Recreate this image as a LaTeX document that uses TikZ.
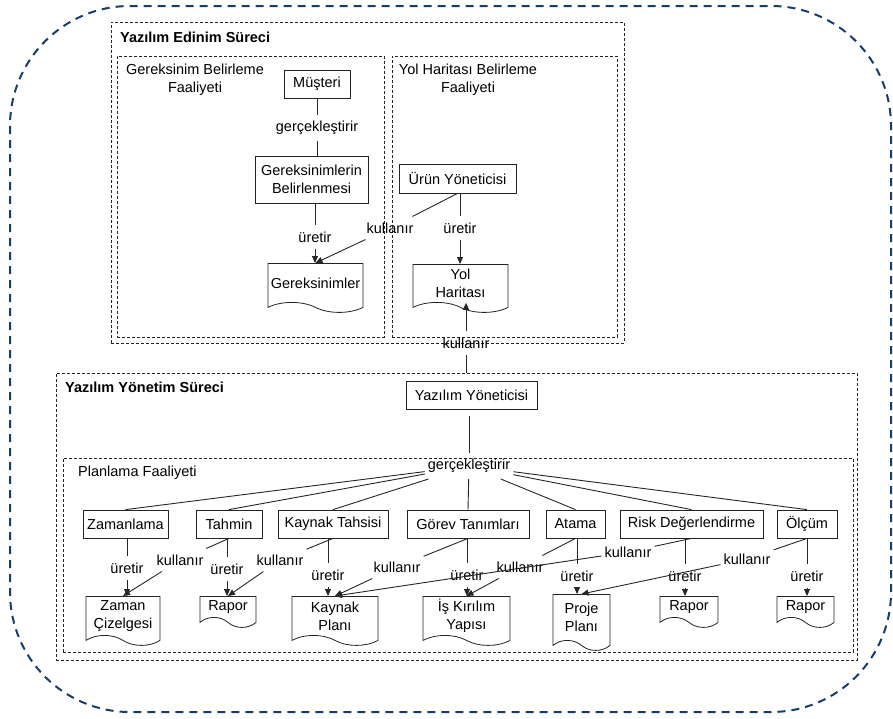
\documentclass[tikz,border=0pt]{standalone}
\usepackage{fontspec}
\setmainfont{Liberation Sans}
\usetikzlibrary{positioning, arrows.meta, shapes.symbols}
\definecolor{framenavy}{RGB}{22, 61, 110}
\definecolor{boxgray}{RGB}{35, 35, 35}

\begin{document}
\begin{tikzpicture}[x=1pt, y=-1pt,
        font=\fontsize{14.5}{18}\selectfont,
        rolebox/.style={draw=boxgray, line width=0.8pt, inner sep=3pt,
            align=center, minimum height=28pt},
        docbox/.style={draw=boxgray, line width=0.8pt, tape,
            tape bend top=none, tape bend bottom=out and in,
            tape bend height=10pt, inner sep=2pt, align=center, anchor=north},
        procbox/.style={draw=boxgray, line width=0.7pt,
            dash pattern=on 3pt off 2pt, inner sep=0pt},
        ttl/.style={anchor=west, inner sep=0pt},
        lbl/.style={inner xsep=3pt, inner ysep=6pt},
        link/.style={draw=black!85, line width=0.9pt},
        uses/.style={link, -{Triangle[length=7pt, width=6pt]}}
    ]
    \useasboundingbox (0,0) rectangle (893,718);
    \draw[framenavy, line width=2pt, dash pattern=on 8pt off 6pt,
        rounded corners=120pt] (10,6) rectangle (891,712);

    % acquisition process
    \node[procbox, minimum width=513pt, minimum height=321pt] (edinim) at (367.5,182.5) {};
    \node[ttl, font=\fontsize{14.5}{18}\selectfont\bfseries] (edtitle) at (120,37) {Yazılım Edinim Süreci};
    \node[procbox, minimum width=267pt, minimum height=281pt] (gbfa) at (250.5,196.5) {};
    \node[align=center, inner sep=0pt] (gbtitle) at (195,80) {Gereksinim Belirleme\\Faaliyeti};
    \node[procbox, minimum width=225pt, minimum height=281pt] (yhfa) at (504.5,196.5) {};
    \node[align=center, inner sep=0pt] (yhtitle) at (468,80) {Yol Haritası Belirleme\\Faaliyeti};

    \node[rolebox, minimum width=66pt] (musteri) at (317,84) {Müşteri};
    \node[lbl] (gerc1) at (317,128) {gerçekleştirir};
    \node[rolebox, minimum width=113pt, minimum height=47pt] (gbelir) at (311.5,179.5)
        {Gereksinimlerin\\Belirlenmesi};
    \node[lbl] (ur1) at (315,237) {üretir};
    \node[docbox, minimum width=95pt, minimum height=49pt] (gerek) at (315.5,263) {Gereksinimler};

    \node[rolebox, minimum width=117pt, minimum height=29pt] (urun) at (457.5,178.5) {Ürün Yöneticisi};
    \node[lbl] (ku1) at (390,228) {kullanır};
    \node[lbl] (ur2) at (460,228) {üretir};
    \node[docbox, minimum width=95pt, minimum height=48pt] (yolh) at (460.5,264) {Yol\\Haritası};
    \node[lbl] (ku2) at (466,343) {kullanır};

    \draw[link] (musteri.south -| gerc1) -- (gerc1);
    \draw[link] (gerc1) -- (gerc1 |- gbelir.north);
    \draw[link] (gbelir.south -| ur1) -- (ur1);
    \draw[uses] (ur1) -- (ur1 |- gerek.north);
    \draw[link] (urun.south) -- (ku1);
    \draw[uses] (ku1) -- (gerek.north);
    \draw[link] (urun.south -| ur2) -- (ur2);
    \draw[uses] (ur2) -- (ur2 |- yolh.north);

    % management process
    \node[procbox, minimum width=801pt, minimum height=287pt] (yonetim) at (456.5,516.5) {};
    \node[ttl, font=\fontsize{14.5}{18}\selectfont\bfseries] (yotitle) at (65,387) {Yazılım Yönetim Süreci};
    \node[procbox, minimum width=790pt, minimum height=194pt] (planlama) at (458,555) {};
    \node[ttl] (pltitle) at (78,473) {Planlama Faaliyeti};

    \draw[uses] (ku2) -- (ku2 |- yolh.south);
    \draw[link] (yonetim.north -| ku2) -- (ku2);

    \node[rolebox, minimum width=131pt] (yyon) at (471.5,395) {Yazılım Yöneticisi};
    \node[lbl] (gerc2) at (469,466) {gerçekleştirir};
    \draw[link, shorten <=7pt] (yyon.south -| gerc2) -- (gerc2);

    \node[rolebox, minimum width=85pt] (zamanla) at (125.5,524) {Zamanlama};
    \node[rolebox, minimum width=66pt] (tahmin) at (229,524) {Tahmin};
    \node[rolebox, minimum width=110pt] (ktahsis) at (333,524) {Kaynak Tahsisi};
    \node[rolebox, minimum width=122pt] (gorev) at (468,524) {Görev Tanımları};
    \node[rolebox, minimum width=59pt] (atama) at (575.5,524) {Atama};
    \node[rolebox, minimum width=143pt] (risk) at (691.5,524) {Risk Değerlendirme};
    \node[rolebox, minimum width=60pt] (olcum) at (807,524) {Ölçüm};

    \node[docbox, minimum width=74pt, minimum height=49pt] (zaman) at (123,596) {Zaman\\Çizelgesi};
    \node[docbox, minimum width=56pt, minimum height=31pt] (rapor1) at (228,596) {Rapor};
    \node[docbox, minimum width=86pt, minimum height=49pt] (kplan) at (335,596) {Kaynak\\Planı};
    \node[docbox, minimum width=87pt, minimum height=49pt] (isk) at (466.5,596) {İş Kırılım\\Yapısı};
    \node[docbox, minimum width=57pt, minimum height=56pt] (proje) at (581.5,594) {Proje\\Planı};
    \node[docbox, minimum width=58pt, minimum height=31pt] (rapor2) at (689,596) {Rapor};
    \node[docbox, minimum width=57pt, minimum height=31pt] (rapor3) at (805.5,596) {Rapor};

    \node[lbl] (urz) at (127,568) {üretir};
    \node[lbl] (urt) at (227,569) {üretir};
    \node[lbl] (urk) at (328,575) {üretir};
    \node[lbl] (urg) at (467,575) {üretir};
    \node[lbl] (ura) at (577,576) {üretir};
    \node[lbl] (urr) at (685,576) {üretir};
    \node[lbl] (uro) at (807,576) {üretir};
    \node[lbl] (kuz) at (180,560) {kullanır};
    \node[lbl] (kut) at (280,560) {kullanır};
    \node[lbl] (kuk) at (397,567) {kullanır};
    \node[lbl] (kug) at (520,567) {kullanır};
    \node[lbl] (kua) at (628,552) {kullanır};
    \node[lbl] (kur) at (747,559) {kullanır};

    \draw[link] (gerc2) -- (zamanla.north);
    \draw[link] (gerc2) -- (tahmin.north);
    \draw[link] (gerc2) -- (ktahsis.north);
    \draw[link] (gerc2) -- (gorev.north);
    \draw[link] (gerc2) -- (atama.north);
    \draw[link] (gerc2) -- (risk.north);
    \draw[link] (gerc2) -- (olcum.north);

    \draw[link] (zamanla.south -| urz) -- (urz);
    \draw[uses] (urz) -- (urz |- zaman.north);
    \draw[link] (tahmin.south -| urt) -- (urt);
    \draw[uses] (urt) -- (urt |- rapor1.north);
    \draw[link] (ktahsis.south -| urk) -- (urk);
    \draw[uses] (urk) -- (urk |- kplan.north);
    \draw[link] (gorev.south -| urg) -- (urg);
    \draw[uses] (urg) -- (urg |- isk.north);
    \draw[link] (atama.south -| ura) -- (ura);
    \draw[uses] (ura) -- (ura |- proje.north);
    \draw[link] (risk.south -| urr) -- (urr);
    \draw[uses] (urr) -- (urr |- rapor2.north);
    \draw[link] (olcum.south -| uro) -- (uro);
    \draw[uses] (uro) -- (uro |- rapor3.north);

    \draw[link] (tahmin.south) -- (kuz);
    \draw[uses] (kuz) -- (zaman.north);
    \draw[link] (ktahsis.south) -- (kut);
    \draw[uses] (kut) -- (rapor1.north);
    \draw[link] (gorev.south) -- (kuk);
    \draw[uses] (kuk) -- (kplan.north);
    \draw[link] (atama.south) -- (kug);
    \draw[uses] (kug) -- (isk.north);
    \draw[link] (risk.south) -- (kua);
    \draw[uses] (kua) -- (kplan.north);
    \draw[link] (olcum.south) -- (kur);
    \draw[uses] (kur) -- (proje.north);
\end{tikzpicture}
\end{document}
